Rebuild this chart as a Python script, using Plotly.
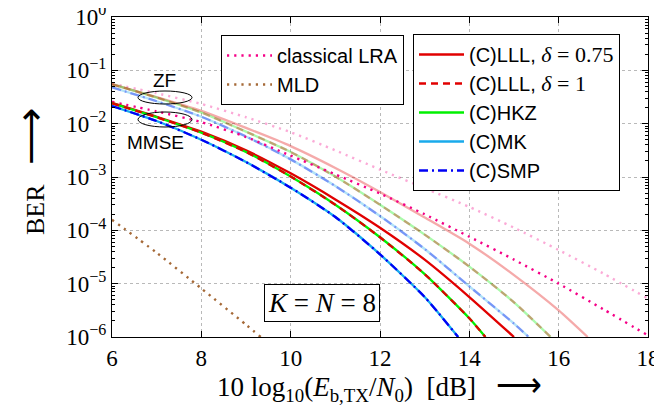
import plotly.graph_objects as go

# ---------------- data ----------------
snr_db = [6, 7, 8, 9, 10, 11, 12, 13, 14, 15, 16, 17, 18]

# MMSE-based lattice-reduction-aided detection
x_mmse_smp = [6, 7, 8, 9, 10, 11, 12, 13, 13.75]
ber_mmse_smp = [2.14e-2, 1.12e-2, 5.01e-3, 1.91e-3, 6.31e-4, 1.78e-4, 3.55e-5, 5.62e-6, 1.0e-6]

x_mmse_hkz = [6, 7, 8, 9, 10, 11, 12, 13, 14, 14.36]
ber_mmse_hkz = [2.40e-2, 1.32e-2, 6.76e-3, 2.95e-3, 1.02e-3, 3.02e-4, 7.41e-5, 1.51e-5, 2.24e-6, 1.0e-6]

x_mmse_lll075 = [6, 7, 8, 9, 10, 11, 12, 13, 14, 15]
ber_mmse_lll075 = [2.45e-2, 1.35e-2, 7.08e-3, 3.16e-3, 1.17e-3, 3.80e-4, 1.12e-4, 2.82e-5, 5.62e-6, 1.0e-6]

# ZF-based lattice-reduction-aided detection
x_zf_lll075 = [6, 7, 8, 9, 10, 11, 12, 13, 14, 15, 16, 16.65]
ber_zf_lll075 = [5.50e-2, 3.16e-2, 1.74e-2, 8.32e-3, 3.80e-3, 1.48e-3, 5.25e-4, 1.74e-4, 5.62e-5, 1.45e-5, 3.16e-6, 1.0e-6]

x_zf_hkz = [6, 7, 8, 9, 10, 11, 12, 13, 14, 15, 15.82]
ber_zf_hkz = [5.50e-2, 3.09e-2, 1.62e-2, 7.08e-3, 2.95e-3, 1.02e-3, 3.02e-4, 8.32e-5, 2.09e-5, 4.47e-6, 1.0e-6]

x_zf_mk = [6, 7, 8, 9, 10, 11, 12, 13, 14, 15, 15.33]
ber_zf_mk = [4.79e-2, 2.63e-2, 1.35e-2, 5.75e-3, 2.14e-3, 6.76e-4, 1.86e-4, 4.47e-5, 8.91e-6, 1.78e-6, 1.0e-6]

# classical LRA
ber_classical_mmse = [2.57e-2, 1.70e-2, 1.07e-2, 5.62e-3, 2.51e-3, 1.12e-3, 4.90e-4, 2.00e-4, 7.59e-5, 2.82e-5, 1.0e-5, 3.31e-6, 1.07e-6]
ber_classical_zf = [5.62e-2, 3.72e-2, 2.34e-2, 1.32e-2, 6.92e-3, 3.16e-3, 1.38e-3, 6.17e-4, 2.75e-4, 1.12e-4, 4.27e-5, 1.55e-5, 5.25e-6]

# maximum-likelihood detection
x_mld = [6, 7, 8, 9, 9.33]
ber_mld = [1.58e-4, 3.80e-5, 8.13e-6, 1.70e-6, 1.0e-6]

x_ticks = [6, 8, 10, 12, 14, 16, 18]
y_ticks = [1, 1e-1, 1e-2, 1e-3, 1e-4, 1e-5, 1e-6]
y_ticktext = ["10<sup>0</sup>", "10<sup>−1</sup>", "10<sup>−2</sup>", "10<sup>−3</sup>",
              "10<sup>−4</sup>", "10<sup>−5</sup>", "10<sup>−6</sup>"]

# ---------------- styles ----------------
RED = "rgb(225,0,0)"
GREEN = "rgb(0,240,0)"
CYAN = "rgb(25,170,235)"
BLUE = "rgb(0,0,245)"
PINK = "rgb(245,0,135)"
BROWN = "rgb(165,105,55)"
ZF_OP = 0.33
LW = 2.3
DASH = "7px,5px"
DASHDOT = "9px,4px,2px,4px"
DOT = "2.2px,5px"

SANS = "Liberation Sans"
SERIF = "Liberation Serif"

fig = go.Figure()

def add(x, y, color, dash="solid", opacity=1.0, name=None, legend=None, rank=None, width=LW):
    fig.add_trace(go.Scatter(
        x=x, y=y, mode="lines", name=name,
        line=dict(color=color, width=width, dash=dash, shape="spline", smoothing=0.6),
        opacity=opacity,
        showlegend=name is not None,
        legend=legend if legend else "legend",
        legendgroup=name if name else None,
        legendrank=rank if rank else 1000,
        hoverinfo="skip",
    ))

# ZF curves (light)
add(snr_db, ber_classical_zf, PINK, DOT, ZF_OP, width=2.4)
add(x_zf_lll075, ber_zf_lll075, RED, "solid", ZF_OP)
add(x_zf_hkz, ber_zf_hkz, GREEN, "solid", ZF_OP)
add(x_zf_hkz, ber_zf_hkz, RED, DASH, ZF_OP)
add(x_zf_mk, ber_zf_mk, CYAN, "solid", ZF_OP)
add(x_zf_mk, ber_zf_mk, BLUE, DASHDOT, ZF_OP)

# MLD and classical MMSE
add(x_mld, ber_mld, BROWN, DOT, 1.0, name="MLD", legend="legend", rank=2, width=2.4)
add(snr_db, ber_classical_mmse, PINK, DOT, 1.0, name="classical LRA", legend="legend", rank=1, width=2.4)

# MMSE curves
delta_style = "font-family:Liberation Serif;font-size:22px"
add(x_mmse_lll075, ber_mmse_lll075, RED, "solid", 1.0,
    name=f"(C)LLL, <span style=\"{delta_style}\"><i>δ</i> = 0.75</span>", legend="legend2", rank=1)
add(x_mmse_hkz, ber_mmse_hkz, GREEN, "solid", 1.0, name="(C)HKZ", legend="legend2", rank=3)
add(x_mmse_hkz, ber_mmse_hkz, RED, DASH, 1.0,
    name=f"(C)LLL, <span style=\"{delta_style}\"><i>δ</i> = 1</span>", legend="legend2", rank=2)
add(x_mmse_smp, ber_mmse_smp, CYAN, "solid", 1.0, name="(C)MK", legend="legend2", rank=4)
add(x_mmse_smp, ber_mmse_smp, BLUE, DASHDOT, 1.0, name="(C)SMP", legend="legend2", rank=5)

# ---------------- layout ----------------
# the page body adds an 8 px offset, so the figure is sized to fit the 662x408 window
OFF = 8
W, H = 662 - OFF, 408 - OFF
L, R, T, B = 112 - OFF, 14, 17 - OFF, 71
PW, PH = W - L - R, H - T - B

def px(x):
    return (x - OFF - L) / PW

def py(y):
    return 1 - (y - OFF - T) / PH

minor_vals = [m * 10.0 ** e for e in range(-6, 0) for m in range(2, 10)]

legend_common = dict(
    bgcolor="white", bordercolor="black", borderwidth=1,
    font=dict(family=SANS, size=20, color="black"),
    xanchor="left", yanchor="top", traceorder="grouped",
    tracegroupgap=0, itemwidth=45, itemclick=False, itemdoubleclick=False,
)

def note(text, x, y, size, family, **kw):
    return dict(text=text, xref="paper", yref="paper", x=px(x), y=py(y),
                xanchor="center", yanchor="middle", showarrow=False,
                font=dict(family=family, size=size, color="black"), **kw)

fig.update_layout(
    width=W, height=H,
    margin=dict(l=L, r=R, t=T, b=B, autoexpand=False),
    paper_bgcolor="white", plot_bgcolor="white",
    font=dict(family=SERIF, color="black"),
    legend=dict(legend_common, x=px(221), y=py(35)),
    legend2=dict(legend_common, x=px(413), y=py(34)),
    xaxis=dict(
        range=[6, 18], tickvals=x_ticks, ticks="inside", ticklen=6, tickcolor="black",
        showline=True, linecolor="black", linewidth=1, mirror="ticks",
        showgrid=True, gridcolor="rgb(185,185,185)", griddash="dot", gridwidth=1,
        tickfont=dict(family=SERIF, size=23), zeroline=False, automargin=False,
        ticklabeloverflow="allow",
    ),
    yaxis=dict(
        type="log", range=[-6, 0], tickvals=y_ticks, ticktext=y_ticktext,
        ticks="inside", ticklen=6, tickcolor="black",
        showline=True, linecolor="black", linewidth=1, mirror="ticks",
        showgrid=True, gridcolor="rgb(185,185,185)", griddash="dot", gridwidth=1,
        tickfont=dict(family=SERIF, size=23), zeroline=False, automargin=False,
        ticklabeloverflow="allow",
        minor=dict(tickvals=minor_vals, ticks="inside", ticklen=3, tickcolor="black", showgrid=False),
    ),
    shapes=[
        dict(type="circle", xref="paper", yref="paper",
             x0=px(138), x1=px(192), y0=py(104), y1=py(91),
             line=dict(color="black", width=1)),
        dict(type="circle", xref="paper", yref="paper",
             x0=px(138), x1=px(192), y0=py(127), y1=py(112),
             line=dict(color="black", width=1)),
    ],
    annotations=[
        note("ZF", 164, 80, 19, SANS),
        note("MMSE", 155, 142, 19, SANS),
        note("<i>K</i> = <i>N</i> = 8", 322, 303, 27, SERIF,
             bgcolor="white", bordercolor="black", borderwidth=1, borderpad=3),
        note("10 log<sub>10</sub>(<i>E</i><sub>b,TX</sub>/<i>N</i><sub>0</sub>)  [dB]   <span style=\"font-size:32px\">⟶</span>",
             379, 386, 27, SERIF),
        note("BER   <span style=\"font-size:40px\">⟶</span>", 30, 172, 26, SERIF, textangle=-90),
    ],
)

fig.write_html("out.html")
